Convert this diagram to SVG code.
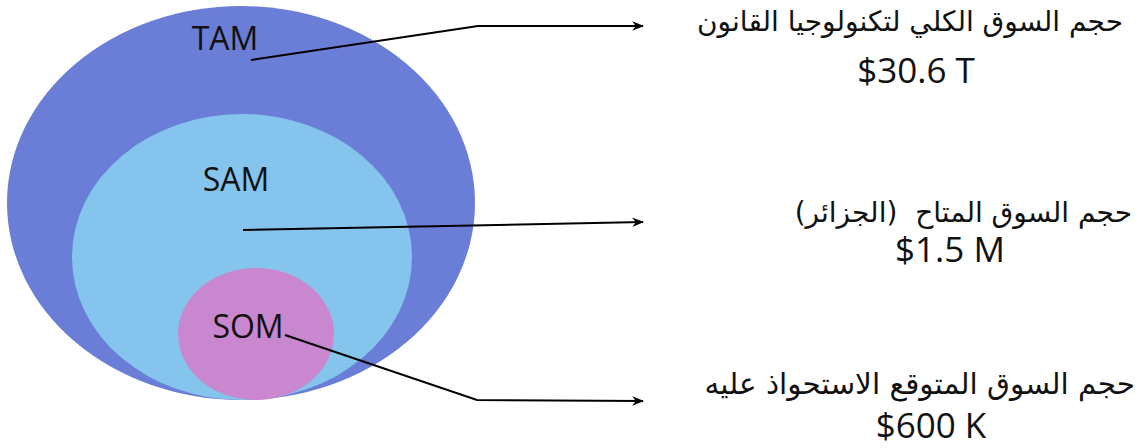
<svg xmlns="http://www.w3.org/2000/svg" width="1142" height="448" viewBox="0 0 1142 448">
<defs>
<marker id="arr" viewBox="0 0 10 10" refX="9" refY="5" markerWidth="6" markerHeight="6" orient="auto" markerUnits="strokeWidth">
<path d="M0,1 L10,5 L0,9 L3,5 Z" fill="#000"/>
</marker>
<style>
.lbl{font-family:"Open Sans","Noto Sans","DejaVu Sans",sans-serif;font-size:32px;fill:#111;text-anchor:middle}
.ar{font-family:"DejaVu Sans","Noto Sans",sans-serif;font-size:28px;fill:#111;text-anchor:start;direction:rtl;white-space:pre}
.val{font-family:"Open Sans","Noto Sans",sans-serif;font-size:35px;fill:#111;text-anchor:middle}
.conn{fill:none;stroke:#000;stroke-width:2;marker-end:url(#arr)}
</style>
</defs>
<rect width="1142" height="448" fill="#fff"/>
<g id="tam">
<ellipse cx="241" cy="203" rx="234" ry="197" fill="#6a7ed7"/>
<text class="lbl" x="225" y="50">TAM</text>
</g>
<g id="sam">
<ellipse cx="242" cy="257" rx="170" ry="143" fill="#85c4ec"/>
<text class="lbl" x="236" y="191">SAM</text>
</g>
<g id="som">
<ellipse cx="256" cy="334" rx="78" ry="66" fill="#c987cf"/>
<text class="lbl" x="248" y="338">SOM</text>
</g>
<g id="connectors">
<polyline class="conn" points="251,60 478,26 643,26"/>
<polyline class="conn" points="243,230 643,222"/>
<polyline class="conn" points="285,335 477,400 643,401"/>
</g>
<g id="tam-info">
<text class="ar" x="1123" y="31" xml:space="preserve">حجم السوق الكلي لتكنولوجيا القانون</text>
<text class="val" x="916" y="83">$30.6 T</text>
</g>
<g id="sam-info">
<text class="ar" x="1132" y="222" xml:space="preserve">حجم السوق المتاح  (الجزائر)</text>
<text class="val" x="950" y="262">$1.5 M</text>
</g>
<g id="som-info">
<text class="ar" x="1135" y="394" xml:space="preserve" style="font-size:29.5px">حجم السوق المتوقع الاستحواذ عليه</text>
<text class="val" x="931" y="438">$600 K</text>
</g>
</svg>
